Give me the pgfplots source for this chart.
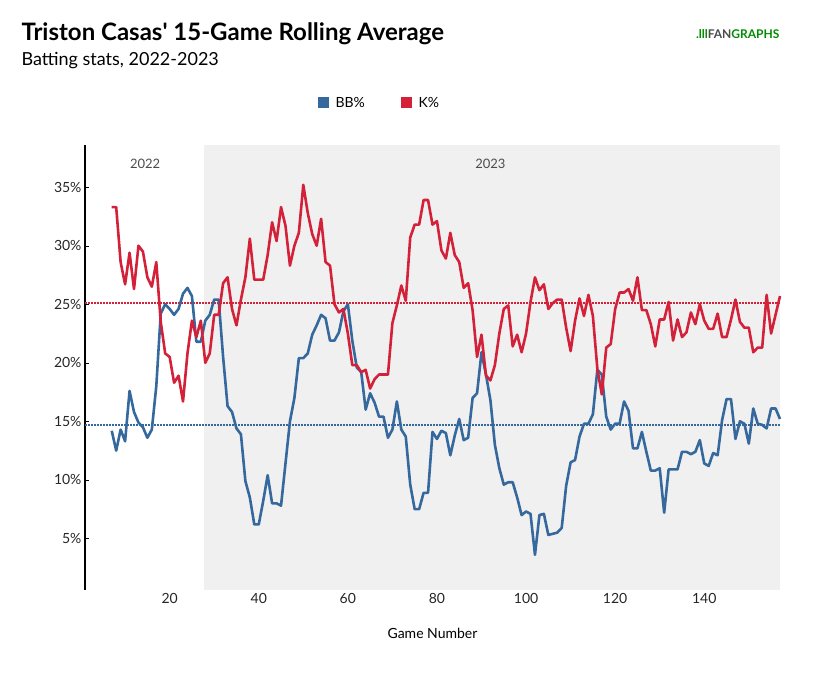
\documentclass[border=0pt]{standalone}
\usepackage{pgfplots}
\pgfplotsset{compat=1.18}
\usepackage{fontspec}
\setmainfont{Lato}
\newfontfamily\titlefont{Lato}
\definecolor{bb}{HTML}{35689C}
\definecolor{kk}{HTML}{D4213A}
\begin{document}
\begin{tikzpicture}[x=1pt,y=1pt]
\begin{axis}[scale only axis, width=695pt, height=445pt, at={(0,0)}, anchor=south west,
 xmin=1, xmax=157, ymin=0.6, ymax=38.6,
 axis x line*=bottom, axis y line*=left, x axis line style={draw=none},
 y axis line style={black, line width=1.2pt},
 xtick={20,40,...,140}, ytick={5,10,...,35}, yticklabel={\pgfmathprintnumber{\tick}\%},
 /pgf/number format/assume math mode=true,
 tick style={black}, major tick length=4pt, xtick style={draw=none},
 ticklabel style={font=\fontsize{14}{14}\selectfont, text=black!85},
 xlabel={Game Number}, xlabel style={font=\fontsize{14}{14}\selectfont, yshift=-18pt},
 clip=false]
\fill[black!6] (axis cs:27.8,0.6) rectangle (axis cs:157,38.6);
\node[font=\fontsize{13}{13}\selectfont, text=black!70] at (axis cs:14.5,37) {2022};
\node[font=\fontsize{13}{13}\selectfont, text=black!70] at (axis cs:92,37) {2023};
\draw[bb, dash pattern=on 1.5pt off 1.5pt, line width=1.5pt] (axis cs:1,14.7) -- (axis cs:157,14.7);
\draw[kk, dash pattern=on 1.5pt off 1.5pt, line width=1.5pt] (axis cs:1,25.1) -- (axis cs:157,25.1);
\addplot[bb, line width=2.6pt, line join=round] coordinates {
(7,14.2)(8,12.5)(9,14.3)(10,13.3)(11,17.6)(12,15.8)(13,14.9)(14,14.5)(15,13.6)(16,14.3)(17,18)(18,24.2)(19,25)(20,24.6)(21,24.1)(22,24.6)(23,25.9)(24,26.4)(25,25.7)(26,21.8)(27,21.8)(28,23.6)(29,24.1)(30,25.4)(31,25.4)(32,20.5)(33,16.3)(34,15.8)(35,14.4)(36,13.9)(37,9.9)(38,8.5)(39,6.2)(40,6.2)(41,8.2)(42,10.4)(43,8)(44,8)(45,7.8)(46,11.4)(47,15)(48,17)(49,20.4)(50,20.4)(51,20.8)(52,22.4)(53,23.2)(54,24.1)(55,23.8)(56,21.9)(57,21.9)(58,22.6)(59,24.4)(60,25)(61,21.9)(62,19.6)(63,19.2)(64,16)(65,17.4)(66,16.6)(67,15.4)(68,15.4)(69,13.6)(70,14.3)(71,16.7)(72,14.3)(73,13.7)(74,9.6)(75,7.5)(76,7.5)(77,8.9)(78,8.9)(79,14.1)(80,13.5)(81,14.2)(82,14)(83,12.1)(84,13.8)(85,15.2)(86,13.4)(87,13.6)(88,17)(89,17.4)(90,20.9)(91,19)(92,16.8)(93,13)(94,11)(95,9.6)(96,9.8)(97,9.8)(98,8.5)(99,7)(100,7.3)(101,7.1)(102,3.6)(103,7)(104,7.1)(105,5.3)(106,5.4)(107,5.5)(108,5.9)(109,9.5)(110,11.5)(111,11.7)(112,13.7)(113,14.8)(114,14.8)(115,15.6)(116,19.4)(117,19)(118,15.4)(119,14.3)(120,14.8)(121,14.8)(122,16.7)(123,15.9)(124,12.7)(125,12.7)(126,14.1)(127,12.4)(128,10.8)(129,10.8)(130,11)(131,7.2)(132,10.9)(133,10.9)(134,10.9)(135,12.4)(136,12.4)(137,12.2)(138,12.4)(139,13.4)(140,11.4)(141,11.2)(142,12.3)(143,12.1)(144,15.1)(145,16.9)(146,16.9)(147,13.5)(148,15)(149,14.8)(150,13.1)(151,16.1)(152,14.8)(153,14.7)(154,14.4)(155,16.1)(156,16.1)(157,15.2)};
\addplot[kk, line width=2.6pt, line join=round] coordinates {
(7,33.3)(8,33.3)(9,28.6)(10,26.7)(11,29.4)(12,26.3)(13,30)(14,29.5)(15,27.3)(16,26.5)(17,28.6)(18,23.5)(19,20.8)(20,20.5)(21,18.3)(22,18.9)(23,16.7)(24,20.8)(25,23.6)(26,22.2)(27,23.6)(28,20)(29,20.8)(30,24.1)(31,24.1)(32,26.8)(33,27.3)(34,24.6)(35,23.2)(36,25.4)(37,27.3)(38,30.6)(39,27.1)(40,27.1)(41,27.1)(42,29.2)(43,32)(44,30.4)(45,33.3)(46,31.7)(47,28.3)(48,30)(49,31.1)(50,35.2)(51,32.8)(52,31)(53,30)(54,32.3)(55,28.6)(56,28.3)(57,25)(58,24.3)(59,24.6)(60,22.5)(61,19.8)(62,19.8)(63,19.2)(64,19.4)(65,17.8)(66,18.6)(67,19)(68,19)(69,19)(70,23.4)(71,24.9)(72,26.6)(73,25.3)(74,30.7)(75,31.8)(76,31.8)(77,33.9)(78,33.9)(79,31.8)(80,32.1)(81,29.6)(82,28.9)(83,31.1)(84,29.2)(85,28.6)(86,26.4)(87,26.8)(88,24.5)(89,20.5)(90,22.4)(91,18.9)(92,18.5)(93,19.8)(94,22.5)(95,24.6)(96,24.9)(97,21.4)(98,22.4)(99,20.9)(100,22.5)(101,25.2)(102,27.3)(103,26.2)(104,26.7)(105,24.6)(106,25.1)(107,25.4)(108,25.4)(109,23)(110,21)(111,23.6)(112,25.5)(113,24)(114,25.8)(115,24)(116,19.5)(117,17.3)(118,21.3)(119,21.6)(120,24.6)(121,26)(122,26)(123,26.3)(124,25.3)(125,27.3)(126,24.5)(127,24.5)(128,23.3)(129,21.4)(130,23.7)(131,23.7)(132,25.2)(133,21.9)(134,23.7)(135,22.2)(136,22.6)(137,24.3)(138,23.3)(139,25)(140,23.6)(141,22.9)(142,22.9)(143,24.2)(144,22.2)(145,22.2)(146,23.7)(147,25.4)(148,23.5)(149,23)(150,23)(151,20.9)(152,21.3)(153,21.3)(154,25.8)(155,22.5)(156,24.1)(157,25.7)};
\end{axis}
\fill[bb] (233,482) rectangle (244,493);
\node[anchor=west, font=\fontsize{14}{14}\selectfont] at (247,487.5) {BB\%};
\fill[kk] (316,482) rectangle (327,493);
\node[anchor=west, font=\fontsize{14}{14}\selectfont] at (330,487.5) {K\%};
\node[anchor=west, font=\titlefont\bfseries\fontsize{24}{24}\selectfont] at (-67,556) {Triston Casas' 15-Game Rolling Average};
\node[anchor=west, font=\fontsize{18}{18}\selectfont] at (-67,529) {Batting stats, 2022-2023};
\node[anchor=east, font=\bfseries\fontsize{12}{12}\selectfont, text=green!55!black] at (698,556) {.lll\textcolor{black!70}{FAN}GRAPHS};
\useasboundingbox (-85,-89) rectangle (749,590);
\end{tikzpicture}
\end{document}
